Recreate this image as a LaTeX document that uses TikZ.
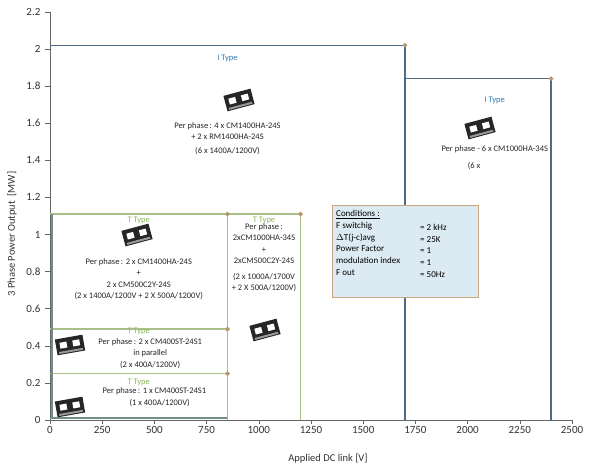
\documentclass[tikz,border=0pt]{standalone}
\usepackage{fontspec}
\setmainfont{Carlito}
\usetikzlibrary{shapes.geometric}
\definecolor{itype}{HTML}{4F6B86}
\definecolor{ttype}{HTML}{A9C08A}
\definecolor{tlabel}{HTML}{8DB85A}
\definecolor{ilabel}{HTML}{2E7BB5}
\definecolor{mark}{HTML}{B8946A}
\definecolor{condfill}{HTML}{DCEAF3}
\definecolor{condedge}{HTML}{C9A77C}
\tikzset{
  ibox/.style={draw=itype, line width=1.3pt},
  tbox/.style={draw=ttype, line width=1.3pt},
  corner/.style={diamond, fill=mark, inner sep=0pt, minimum size=5pt},
  lbl/.style={font=\fontsize{8.5}{11.5}\selectfont, align=center, inner sep=0pt, anchor=north, text=black!85},
  tt/.style={font=\fontsize{8.5}{10}\selectfont, text=tlabel, inner sep=0pt},
  it/.style={font=\fontsize{8.5}{10}\selectfont, text=ilabel, inner sep=0pt},
  ticklbl/.style={font=\fontsize{11}{12}\selectfont, inner sep=0pt, text=black!80},
}
\newcommand{\modpic}[3]{%
  \begin{scope}[shift={(#1,#2)}, rotate=#3, x=1pt, y=1pt]
    \fill[black!85] (-14,-8) rectangle (14,8);
    \fill[white] (-10,-2) rectangle (-3,4);
    \fill[white] (3,-2) rectangle (10,4);
    \fill[black!40] (-12,-7) rectangle (12,-5);
  \end{scope}}
\begin{document}
\begin{tikzpicture}[x=1pt,y=1pt]
\useasboundingbox (0,0) rectangle (600,472);
\fill[white] (0,0) rectangle (600,472);
\begin{scope}[shift={(50,52)}, x=0.2088pt, y=185.5pt]
  \draw[black!60, line width=0.8pt] (0,0) -- (0,2.2);
  \draw[black!60, line width=0.8pt] (0,0) -- (2500,0);
  \foreach \v in {0,250,...,2500} {
    \draw[black!60] (\v,0) -- (\v,-0.02);
    \node[ticklbl, anchor=north] at (\v,-0.035) {\v};
  }
  \foreach \v/\t in {0/0,0.2/0.2,0.4/0.4,0.6/0.6,0.8/0.8,1/1,1.2/1.2,1.4/1.4,1.6/1.6,1.8/1.8,2/2,2.2/2.2} {
    \draw[black!60] (0,\v) -- (-25,\v);
    \node[ticklbl, anchor=east] at (-45,\v) {\t};
  }
  \coordinate (i1) at (1700,2.02);
  \coordinate (i2) at (2400,1.84);
  \draw[ibox] (0,2.02) -- (i1) -- (1700,0);
  \draw[ibox] (1700,1.84) -- (i2) -- (2400,0);
  \coordinate (t1) at (850,1.11);
  \coordinate (t2) at (1200,1.11);
  \coordinate (t3) at (850,0.49);
  \coordinate (t4) at (850,0.25);
  \draw[tbox] (0,1.11) -- (t2) -- (1200,0);
  \draw[tbox] (t1) -- (850,0);
  \draw[tbox] (0,0.49) -- (t3);
  \draw[tbox] (0,0.25) -- (t4);
  \draw[itype!60!ttype, line width=1.6pt] (10,0.01) -- (10,1.11);
  \draw[itype!60!ttype, line width=1.6pt] (0,0.01) -- (850,0.01);
  \foreach \c in {i1,i2,t1,t2,t3,t4} \node[corner] at (\c) {};
  \node[it] at (850,1.947) {I Type};
  \node[lbl] at (850,1.606) {Per phase\,: 4 x CM1400HA-24S\\+ 2 x RM1400HA-24S\\[2pt](6 x 1400A/1200V)};
  \node[it] at (2130,1.72) {I Type};
  \node[lbl] at (2130,1.48) {Per phase - 6 x CM1000HA-34S};
  \node[lbl, anchor=north west] at (2000,1.39) {(6 x};
  \node[tt] at (425,1.075) {T Type};
  \node[lbl] at (425,0.873) {Per phase\,: 2 x CM1400HA-24S\\+\\2 x CM500C2Y-24S\\(2 x 1400A/1200V + 2 X 500A/1200V)};
  \node[tt] at (1025,1.075) {T Type};
  \node[lbl] at (1025,1.06) {Per phase\,:\\2xCM1000HA-34S\\+\\2xCM500C2Y-24S\\[4pt](2 x 1000A/1700V\\+ 2 X 500A/1200V)};
  \node[tt] at (425,0.475) {T Type};
  \node[lbl] at (480,0.44) {Per phase\,: 2 x CM400ST-24S1\\in parallel\\(2 x 400A/1200V)};
  \node[tt] at (425,0.205) {T Type};
  \node[lbl] at (500,0.175) {Per phase\,: 1 x CM400ST-24S1\\\quad\ (1 x 400A/1200V)};
\end{scope}
\modpic{239}{372}{15}
\modpic{137}{237}{15}
\modpic{265}{142}{15}
\modpic{480}{344}{15}
\modpic{70}{127}{10}
\modpic{70}{65}{10}
\node[draw=condedge, fill=condfill, line width=0.8pt, anchor=north west, minimum width=146pt, minimum height=92pt, inner sep=0pt] (cond) at (332,267) {};
\node[anchor=north west, align=left, font=\fontsize{9}{11.8}\selectfont, inner sep=0pt] (condtext) at (336,262) {\underline{Conditions :}\\
F switchig\\$\Delta$T(j-c)avg\\Power Factor\\modulation index\\F out};
\node[anchor=north west, align=left, font=\fontsize{9}{11.8}\selectfont, inner sep=0pt] (condval) at (420,262) {\strut\\= 2 kHz\\= 25K\\= 1\\= 1\\= 50Hz};
\node[font=\fontsize{10.5}{12}\selectfont, rotate=90, text=black!80] (ylab) at (12,238) {3 Phase Power Output\ \ [MW]};
\node[font=\fontsize{10.5}{12}\selectfont, text=black!80] (xlab) at (328,13) {Applied DC link [V]};
\end{tikzpicture}
\end{document}
